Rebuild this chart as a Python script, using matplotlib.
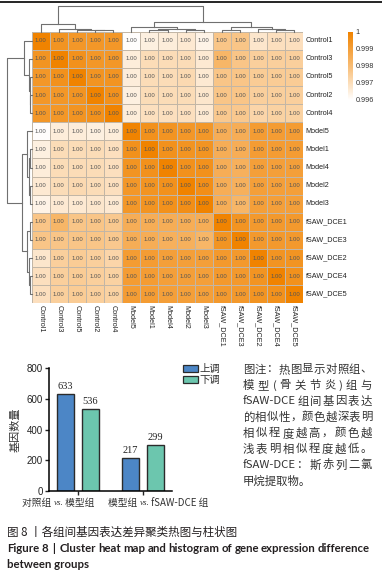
import numpy as np
import matplotlib
matplotlib.use("Agg")
import matplotlib.pyplot as plt
from matplotlib.colors import LinearSegmentedColormap
from matplotlib.patches import Rectangle
from matplotlib.lines import Line2D

plt.rcParams['font.family'] = ['Noto Sans CJK SC', 'DejaVu Sans']

# ---- data -------------------------------------------------------------
samples = ["Control1", "Control3", "Control5", "Control2", "Control4",
           "Model5", "Model1", "Model4", "Model2", "Model3",
           "fSAW_DCE1", "fSAW_DCE3", "fSAW_DCE2", "fSAW_DCE4", "fSAW_DCE5"]

sim = [
    [1.0000, .9994, .9993, .9993, .9993, .9960, .9964, .9965, .9966, .9963, .9977, .9977, .9967, .9969, .9969],
    [.9994, 1.0000, .9995, .9993, .9993, .9965, .9970, .9970, .9970, .9966, .9982, .9977, .9974, .9974, .9974],
    [.9993, .9995, 1.0000, .9994, .9994, .9965, .9970, .9970, .9971, .9966, .9977, .9977, .9975, .9975, .9975],
    [.9993, .9993, .9994, 1.0000, .9995, .9964, .9970, .9970, .9970, .9967, .9977, .9977, .9974, .9974, .9974],
    [.9993, .9993, .9994, .9995, 1.0000, .9965, .9969, .9969, .9969, .9966, .9976, .9976, .9972, .9973, .9973],
    [.9960, .9965, .9965, .9964, .9965, 1.0000, .9995, .9994, .9993, .9993, .9985, .9985, .9991, .9991, .9991],
    [.9964, .9970, .9970, .9970, .9969, .9995, 1.0000, .9995, .9994, .9994, .9985, .9985, .9991, .9991, .9991],
    [.9965, .9970, .9970, .9970, .9969, .9994, .9995, 1.0000, .9995, .9995, .9985, .9984, .9990, .9990, .9990],
    [.9966, .9970, .9971, .9970, .9969, .9993, .9994, .9995, 1.0000, .9996, .9985, .9984, .9990, .9990, .9990],
    [.9963, .9966, .9966, .9967, .9966, .9993, .9994, .9995, .9996, 1.0000, .9985, .9982, .9990, .9990, .9990],
    [.9977, .9982, .9977, .9977, .9976, .9985, .9985, .9985, .9985, .9985, 1.0000, .9994, .9992, .9992, .9992],
    [.9977, .9977, .9977, .9977, .9976, .9985, .9985, .9984, .9984, .9982, .9994, 1.0000, .9992, .9992, .9992],
    [.9967, .9974, .9975, .9974, .9972, .9991, .9991, .9990, .9990, .9990, .9992, .9992, 1.0000, .9994, .9994],
    [.9969, .9974, .9975, .9974, .9973, .9991, .9991, .9990, .9990, .9990, .9992, .9992, .9994, 1.0000, .9995],
    [.9969, .9974, .9975, .9974, .9973, .9991, .9991, .9990, .9990, .9990, .9992, .9992, .9994, .9995, 1.0000],
]

# cluster tree: (left, right, merge height)
tree = (
    ("Control1", ("Control3", ("Control5", ("Control2", "Control4", 0.05), 0.07), 0.09), 0.30),
    (("Model5", (("Model1", "Model4", 0.05), ("Model2", "Model3", 0.06), 0.10), 0.18),
     (("fSAW_DCE1", "fSAW_DCE3", 0.08),
      ("fSAW_DCE2", ("fSAW_DCE4", "fSAW_DCE5", 0.05), 0.09), 0.18), 0.38),
    1.0)

cbar_ticks = [0.996, 0.997, 0.998, 0.999, 1.0]
cbar_labels = ["0.996", "0.997", "0.998", "0.999", "1"]

comparisons = [("对照组 ", "vs.", " 模型组"), ("模型组 ", "vs.", " fSAW-DCE 组")]
up = [633, 217]
down = [536, 299]

note_lines = ["图注：热图显示对照组、",
              "模型(骨关节炎)组与",
              "fSAW-DCE 组间基因表达",
              "的相似性，颜色越深表明",
              "相似程度越高，颜色越",
              "浅表明相似程度越低。",
              "fSAW-DCE：斯赤列二氯",
              "甲烷提取物。"]
title_cn = "图 8 丨各组间基因表达差异聚类热图与柱状图"
title_en1 = "Figure 8  |  Cluster heat map and histogram of gene expression difference"
title_en2 = "between groups"

# ---- layout helpers ---------------------------------------------------
W, H = 382, 579
fig = plt.figure(figsize=(W / 100, H / 100), dpi=100)


def px(x0, y0, x1, y1):
    return [x0 / W, 1 - y1 / H, (x1 - x0) / W, (y1 - y0) / H]


def justify(tokens, x0, x1, y, **kw):
    texts = [fig.text(0, 1 - y / H, t, va='center', **kw) for t in tokens]
    r = fig.canvas.get_renderer()
    widths = [t.get_window_extent(r).width for t in texts]
    gap = (x1 - x0 - sum(widths)) / max(len(tokens) - 1, 1)
    x = x0
    for t, w in zip(texts, widths):
        t.set_x(x / W)
        x += w + gap


def tokenize(line):
    out = []
    buf = ""
    for ch in line:
        if ord(ch) < 128 and ch != " ":
            buf += ch
        else:
            if buf:
                out.append(buf)
                buf = ""
            if ch != " ":
                out.append(ch)
    if buf:
        out.append(buf)
    return out


# ---- heatmap ----------------------------------------------------------
cmap = LinearSegmentedColormap.from_list("wo", ["#FFFFFF", "#F8BC74", "#F08300"])
vmin, vmax = 0.99595, 1.0
mat = np.array(sim)
n = len(samples)

ax = fig.add_axes(px(31.7, 31.7, 303.3, 303.3))
mesh = ax.pcolormesh(mat, cmap=cmap, vmin=vmin, vmax=vmax,
                     edgecolors="#c2b6a6", linewidth=0.5)
ax.set_xlim(0, n)
ax.set_ylim(n, 0)
for i in range(n):
    for j in range(n):
        ax.text(j + 0.5, i + 0.5, f"{mat[i, j]:.2f}", ha='center', va='center',
                fontsize=4.3, color="#555555", family="Liberation Sans")
ax.set_xticks([])
ax.set_yticks([])
for s in ax.spines.values():
    s.set_visible(False)
for i, name in enumerate(samples):
    ax.text(n + 0.12, i + 0.5, name, ha='left', va='center', fontsize=5.2,
            color="#222222", family="Liberation Sans")
    ax.text(i + 0.5, n + 0.12, name, ha='center', va='top', rotation=270,
            fontsize=5.2, color="#222222", family="Liberation Sans")

# ---- dendrograms ------------------------------------------------------
pos = {name: i + 0.5 for i, name in enumerate(samples)}


def draw_tree(a, node, top):
    if isinstance(node, str):
        return pos[node], 0.0
    left, right, h = node
    xl, hl = draw_tree(a, left, top)
    xr, hr = draw_tree(a, right, top)
    xs = [xl, xl, xr, xr]
    ys = [hl, h, h, hr]
    if top:
        a.plot(xs, ys, color="#707070", lw=0.8, clip_on=False)
    else:
        a.plot(ys, xs, color="#707070", lw=0.8, clip_on=False)
    return (xl + xr) / 2, h


axt = fig.add_axes(px(31.7, 6, 303.3, 31.7))
draw_tree(axt, tree, True)
axt.set_xlim(0, n)
axt.set_ylim(0, 1.0)
axt.axis('off')

axl = fig.add_axes(px(6.5, 31.7, 31.7, 303.3))
draw_tree(axl, tree, False)
axl.set_xlim(1.0, 0)
axl.set_ylim(n, 0)
axl.axis('off')

# ---- colorbar ---------------------------------------------------------
cax = fig.add_axes(px(348, 32, 353, 100))
cb = fig.colorbar(mesh, cax=cax, ticks=cbar_ticks)
cb.ax.set_yticklabels(cbar_labels)
cb.outline.set_visible(False)
cb.ax.tick_params(length=0, pad=2, labelsize=5.2, labelcolor="#333333")
for t in cb.ax.get_yticklabels():
    t.set_family("Liberation Sans")

# ---- bar chart --------------------------------------------------------
axb = fig.add_axes(px(49, 368, 172, 491))
centers = [0.5, 3.08]
bw = 0.68
xu = [c - 0.5 for c in centers]
xd = [c + 0.5 for c in centers]
b1 = axb.bar(xu, up, width=bw, color="#4C86C6", edgecolor="#2b2b2b", lw=1.0)
b2 = axb.bar(xd, down, width=bw, color="#6CC6AE", edgecolor="#2b2b2b", lw=1.0)
for bars, vals in ((b1, up), (b2, down)):
    for b, v in zip(bars, vals):
        axb.annotate(str(v), (b.get_x() + b.get_width() / 2, v), xytext=(0, 2),
                     textcoords='offset points', ha='center', va='bottom',
                     fontsize=7.5, family="Liberation Serif", color="#222222")
axb.set_xlim(-0.66, 4.26)
axb.set_ylim(0, 800)
axb.set_yticks([0, 200, 400, 600, 800])
axb.set_xticks(centers)
axb.set_xticklabels([])
axb.spines['top'].set_visible(False)
axb.spines['right'].set_visible(False)
axb.spines['left'].set_linewidth(1.1)
axb.spines['bottom'].set_linewidth(1.1)
axb.tick_params(axis='both', direction='out', length=3, width=1.0, pad=1.5,
                labelsize=7, colors="#222222")
for t in axb.get_yticklabels():
    t.set_family("Liberation Sans")
axb.set_ylabel("基因数量", fontsize=8, color="#333333", labelpad=4)

for (a, b, c), x0 in zip(comparisons, [22, 108]):
    t1 = fig.text(x0 / W, 1 - 503 / H, a, fontsize=7, va='center', color="#333333")
    t2 = axb.annotate(b, xy=(1, 0.5), xycoords=t1, va='center', ha='left',
                      fontsize=6.5, style='italic', family="Liberation Serif",
                      color="#333333", annotation_clip=False)
    axb.annotate(c, xy=(1, 0.5), xycoords=t2, va='center', ha='left',
                 fontsize=7, color="#333333", annotation_clip=False)

# legend
for k, (col, lab) in enumerate([("#4C86C6", "上调"), ("#6CC6AE", "下调")]):
    y0 = 365 + k * 11
    fig.add_artist(Rectangle((183 / W, 1 - (y0 + 7) / H), 15 / W, 7 / H,
                             transform=fig.transFigure, facecolor=col,
                             edgecolor="#2b2b2b", lw=0.9))
    fig.text(199.5 / W, 1 - (y0 + 3.5) / H, lab, fontsize=7.5, va='center',
             color="#333333")

# note paragraph
for k, line in enumerate(note_lines):
    y = 369.5 + k * 15.9
    toks = tokenize(line)
    if k == len(note_lines) - 1:
        fig.text(243 / W, 1 - y / H, line, fontsize=8.2, va='center', color="#333333")
    else:
        justify(toks, 243, 372, y, fontsize=8.2, color="#333333")

# captions
fig.text(7 / W, 1 - 532 / H, title_cn, fontsize=8.3, va='center', color="#231f20")
justify(title_en1.split(" "), 7, 370, 549, fontsize=8.2, fontweight='bold',
        family="Lato", color="#231f20")
fig.text(7 / W, 1 - 564 / H, title_en2, fontsize=8.2, fontweight='bold',
         family="Lato", va='center', color="#231f20")

fig.add_artist(Line2D([0, 1], [1 - 1.5 / H] * 2, color="black", lw=1.2,
                      transform=fig.transFigure))

fig.savefig("out.png", dpi=100)
